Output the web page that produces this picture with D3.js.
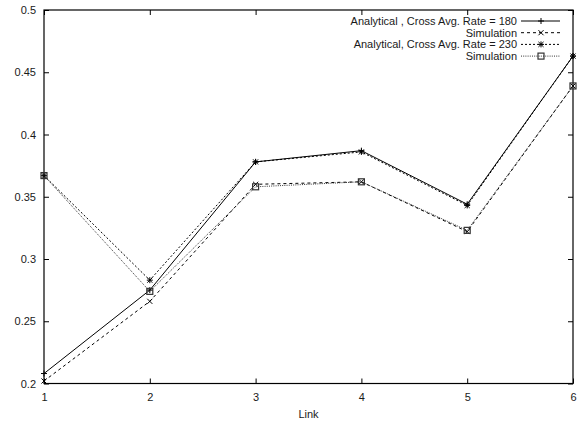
<!DOCTYPE html>
<html>
<head>
<meta charset="utf-8">
<script src="https://cdn.jsdelivr.net/npm/d3@7"></script>
<style>
  body { margin: 0; background: #fff; }
  svg text { font-family: "Liberation Sans", Arial, sans-serif; font-size: 11px; fill: #1a1a1a; }
</style>
</head>
<body>
<svg id="chart" width="584" height="425"></svg>
<script>
// data
var links = [1, 2, 3, 4, 5, 6];
var analytical180 = [0.208, 0.275, 0.378, 0.387, 0.344, 0.463];
var simulation180 = [0.202, 0.266, 0.360, 0.362, 0.322, 0.439];
var analytical230 = [0.367, 0.283, 0.378, 0.386, 0.343, 0.463];
var simulation230 = [0.367, 0.274, 0.358, 0.362, 0.323, 0.439];
var yTicks = [0.2, 0.25, 0.3, 0.35, 0.4, 0.45, 0.5];

var series = [
  { name: 'Analytical , Cross Avg. Rate = 180', values: analytical180, dash: null, marker: 'plus', color: '#000' },
  { name: 'Simulation', values: simulation180, dash: '3,3', marker: 'cross', color: '#000' },
  { name: 'Analytical, Cross Avg. Rate = 230', values: analytical230, dash: '2,2', marker: 'star', color: '#000' },
  { name: 'Simulation', values: simulation230, dash: '1,1.2', marker: 'square', color: '#333' }
];

var margin = { left: 44, top: 10, right: 11, bottom: 41.5 };
var width = 584 - margin.left - margin.right;
var height = 425 - margin.top - margin.bottom;

var svg = d3.select('svg#chart');
var g = svg.append('g').attr('transform', 'translate(' + margin.left + ',' + margin.top + ')');

var xScale = d3.scaleLinear().domain([1, 6]).range([0, width]);
var yScale = d3.scaleLinear().domain([0.2, 0.5]).range([height, 0]);

// axes, ticks pointing inward, mirrored like gnuplot
var axis_bottom = d3.axisBottom(xScale).tickValues(links).tickFormat(d3.format('d')).tickSizeInner(-5).tickSizeOuter(0).tickPadding(10);
var axis_top = d3.axisTop(xScale).tickValues(links).tickFormat('').tickSizeInner(-5).tickSizeOuter(0);
var axis_left = d3.axisLeft(yScale).tickValues(yTicks).tickFormat(function(d) { return String(+d.toFixed(2)); }).tickSizeInner(-5).tickSizeOuter(0).tickPadding(8);
var axis_right = d3.axisRight(yScale).tickValues(yTicks).tickFormat('').tickSizeInner(-5).tickSizeOuter(0);

g.append('g').attr('class', 'axis axis--x').attr('transform', 'translate(0,' + height + ')').call(axis_bottom);
g.append('g').attr('class', 'axis axis--x2').call(axis_top);
g.append('g').attr('class', 'axis axis--y').call(axis_left);
g.append('g').attr('class', 'axis axis--y2').attr('transform', 'translate(' + width + ',0)').call(axis_right);

g.selectAll('.axis path').remove();
g.selectAll('.axis line').style('stroke', '#000').style('stroke-width', 1);
g.selectAll('.axis text').style('font-family', '"Liberation Sans", Arial, sans-serif').style('font-size', '11px').style('fill', '#1a1a1a');

g.append('rect')
  .attr('x', 0).attr('y', 0).attr('width', width).attr('height', height)
  .style('fill', 'none').style('stroke', '#000').style('stroke-width', 1.2);

g.append('text')
  .attr('x', width / 2).attr('y', height + 34)
  .attr('text-anchor', 'middle')
  .style('fill', '#1a1a1a')
  .text('Link');

function drawMarker(sel, type, x, y, color) {
  var s = 3;
  var p = sel.append('g').attr('transform', 'translate(' + x + ',' + y + ')')
    .style('stroke', color).style('stroke-width', 1).style('fill', 'none');
  if (type == 'plus' || type == 'star') {
    p.append('line').attr('x1', -s).attr('x2', s).attr('y1', 0).attr('y2', 0);
    p.append('line').attr('x1', 0).attr('x2', 0).attr('y1', -s).attr('y2', s);
  }
  if (type == 'cross' || type == 'star') {
    p.append('line').attr('x1', -s * 0.85).attr('x2', s * 0.85).attr('y1', -s * 0.85).attr('y2', s * 0.85);
    p.append('line').attr('x1', -s * 0.85).attr('x2', s * 0.85).attr('y1', s * 0.85).attr('y2', -s * 0.85);
  }
  if (type == 'square') {
    p.append('rect').attr('x', -3).attr('y', -3).attr('width', 6).attr('height', 6).style('stroke-width', 1.2);
  }
}

var line = d3.line()
  .x(function(d, i) { return xScale(links[i]); })
  .y(function(d) { return yScale(d); });

series.forEach(function(s) {
  g.append('path')
    .attr('d', line(s.values))
    .style('fill', 'none')
    .style('stroke', s.color)
    .style('stroke-width', 1)
    .style('stroke-dasharray', s.dash);
  s.values.forEach(function(v, i) {
    drawMarker(g, s.marker, xScale(links[i]), yScale(v), s.color);
  });
});

// legend, top right
var legend = g.append('g').attr('class', 'legend');
series.forEach(function(s, i) {
  var ly = 11 + i * 11.7;
  legend.append('text')
    .attr('x', 473).attr('y', ly).attr('dy', '0.35em')
    .attr('text-anchor', 'end')
    .text(s.name);
  legend.append('line')
    .attr('x1', 477).attr('x2', 516).attr('y1', ly).attr('y2', ly)
    .style('stroke', s.color).style('stroke-width', 1)
    .style('stroke-dasharray', s.dash);
  drawMarker(legend, s.marker, 497, ly, s.color);
});
</script>
</body>
</html>
